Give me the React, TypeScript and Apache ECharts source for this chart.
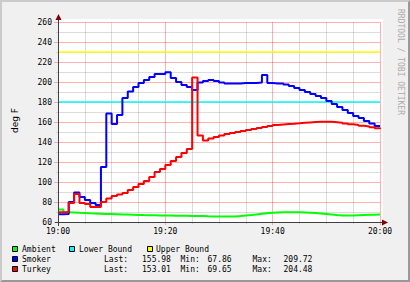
import React, { useEffect, useRef } from 'react';
import * as echarts from 'echarts';

// minutes after 19:00, one sample per minute
const minutes: number[] = Array.from({ length: 61 }, (_, i) => i);
const xTickLabels = ['19:00', '19:20', '19:40', '20:00'];

const ambient = [
  72.5, 69.8, 69.5, 69.2, 69, 68.7, 68.5, 68.3, 68.1, 68, 67.8, 67.6, 67.5, 67.3, 67.1, 66.9,
  66.8, 66.7, 66.6, 66.5, 66.4, 66.3, 66.2, 66.2, 66.1, 66, 65.9, 65.7, 65.6, 65.5, 65.4, 65.4,
  65.6, 66, 66.5, 67, 67.6, 68.2, 68.8, 69.2, 69.5, 69.7, 69.8, 69.8, 69.7, 69.6, 69.3, 69,
  68.5, 68, 67.5, 67, 66.6, 66.4, 66.5, 66.8, 67, 67.2, 67.3, 67.4, 67.4,
];
const smoker = [
  67.86, 68, 80, 89.5, 85, 82, 79, 77, 115, 168.5, 158, 167, 184, 190.5, 195, 199,
  202, 205, 208, 208, 209.72, 204, 200, 197, 195, 192, 199.5, 201, 202, 201, 199.5, 198.5,
  198.5, 198.5, 199, 199, 199, 199.5, 207, 199, 198.5, 198.5, 197.5, 196, 194, 192, 190, 188,
  186, 184, 181, 178, 175, 172, 169, 166, 164, 161, 158.5, 156, 155.98,
];
const turkey = [
  69.65, 70, 79, 88, 79, 78, 75, 75, 80, 83.5, 86, 87.5, 89, 92, 95, 98,
  101, 105, 110, 113, 117, 121, 125, 129, 133, 204.48, 146.5, 141.5, 143.5, 145, 146.5, 148,
  149, 150, 151, 152, 153, 154, 155, 156, 157, 157.5, 158, 158.3, 158.7, 159.2, 159.6, 160,
  160.2, 160.3, 160.2, 159.8, 159.3, 158.5, 157.7, 157, 156.2, 155.5, 154.7, 153.8, 153.01,
];
const lowerBound = 180;
const upperBound = 230;

const smokerStats = { last: '155.98', min: '67.86', max: '209.72' };
const turkeyStats = { last: '153.01', min: '69.65', max: '204.48' };

const MONO = "'DejaVu Sans Mono', monospace";

export default function App() {
  const ref = useRef<HTMLDivElement>(null);
  useEffect(() => {
    const chart = echarts.init(ref.current!, null, { renderer: 'svg' });
    const GL = 58, GT = 22, GR = 380, GB = 222;
    const majorColor = 'rgba(255,0,0,0.3)';
    const minorColor = 'rgba(140,140,140,0.3)';
    const stepLine = (name: string, vals: number[], color: string, z: number) => ({
      type: 'line', name, step: 'end', symbol: 'none', silent: true, z,
      data: minutes.map((m, i) => [m, vals[i]]),
      lineStyle: { color, width: 2 },
    });
    const flatLine = (name: string, v: number, color: string, z: number) => ({
      type: 'line', name, symbol: 'none', silent: true, z,
      data: [[minutes[0], v], [minutes[minutes.length - 1], v]],
      lineStyle: { color, width: 1.5 },
    });
    const txt = (x: number, y: number, text: string, extra: any = {}) => ({
      type: 'text', x, y, silent: true,
      style: { text, fill: '#000', font: `8px ${MONO}`, verticalAlign: 'middle', align: 'left', ...extra },
    });
    const box = (x: number, y: number, color: string) => ({
      type: 'rect', silent: true, shape: { x: x + 0.5, y: y + 0.5, width: 5, height: 5 },
      style: { fill: color, stroke: '#000', lineWidth: 1 },
    });
    const legendRows = [249, 259, 269];
    chart.setOption({
      animation: false,
      backgroundColor: '#f0f0f0',
      grid: { left: GL, top: GT, right: 410 - GR, bottom: 282 - GB, containLabel: false },
      xAxis: {
        type: 'value', min: 0, max: 60, interval: 20,
        axisLine: { show: false },
        axisTick: { show: true, length: 3, lineStyle: { color: majorColor } },
        minorTick: { show: true, splitNumber: 4, length: 2, lineStyle: { color: minorColor } },
        splitLine: { show: true, lineStyle: { color: majorColor, width: 1 } },
        minorSplitLine: { show: true, lineStyle: { color: minorColor, width: 1 } },
        axisLabel: {
          margin: 5, color: '#000', fontFamily: MONO, fontSize: 8,
          formatter: (v: number) => xTickLabels[Math.round(v / 20)] ?? '',
        },
      },
      yAxis: {
        type: 'value', min: 60, max: 260, interval: 20,
        axisLine: { show: false },
        axisTick: { show: true, length: 4, lineStyle: { color: majorColor } },
        minorTick: { show: true, splitNumber: 2, length: 2, lineStyle: { color: minorColor } },
        splitLine: { show: true, lineStyle: { color: majorColor, width: 1 } },
        minorSplitLine: { show: true, lineStyle: { color: minorColor, width: 1 } },
        axisLabel: { margin: 6, color: '#000', fontFamily: MONO, fontSize: 8 },
      },
      series: [
        stepLine('Ambient', ambient, '#00ff00', 2),
        flatLine('Lower Bound', lowerBound, '#00ffff', 3),
        flatLine('Upper Bound', upperBound, '#ffff00', 4),
        stepLine('Smoker', smoker, '#0000ff', 5),
        stepLine('Turkey', turkey, '#ff0000', 6),
      ],
      graphic: [
        { type: 'rect', z: -100, silent: true, shape: { x: GL, y: GT - 3, width: GR - GL + 3, height: GB - GT + 3 }, style: { fill: '#ffffff' } },
        // 3D frame
        { type: 'polygon', silent: true, shape: { points: [[0, 0], [410, 0], [408, 2], [2, 2], [2, 280], [0, 282]] }, style: { fill: '#cbcbcb' } },
        { type: 'polygon', silent: true, shape: { points: [[410, 0], [410, 282], [0, 282], [2, 280], [408, 280], [408, 2]] }, style: { fill: '#999999' } },
        // axes
        { type: 'line', silent: true, z: 50, shape: { x1: GL - 3, y1: GB + 0.5, x2: GR + 4, y2: GB + 0.5 }, style: { stroke: '#404040', lineWidth: 1 } },
        { type: 'line', silent: true, z: 50, shape: { x1: GL + 0.5, y1: GB + 4, x2: GL + 0.5, y2: GT - 3 }, style: { stroke: '#404040', lineWidth: 1 } },
        { type: 'polygon', silent: true, z: 51, shape: { points: [[GR + 2, GB - 2.5], [GR + 8, GB + 0.5], [GR + 2, GB + 3.5]] }, style: { fill: '#7f0000' } },
        { type: 'polygon', silent: true, z: 51, shape: { points: [[GL - 2.5, GT - 2], [GL + 0.5, GT - 8], [GL + 3.5, GT - 2]] }, style: { fill: '#7f0000' } },
        // y axis title
        { type: 'text', x: 15, y: 120.5, rotation: Math.PI / 2, silent: true,
          style: { text: 'deg F', fill: '#000', font: "9px 'DejaVu Sans', sans-serif", align: 'center', verticalAlign: 'middle' } },
        // watermark
        { type: 'text', x: 400, y: 62, rotation: -Math.PI / 2, silent: true,
          style: { text: 'RRDTOOL / TOBI OETIKER', fill: '#ababab', font: `8px ${MONO}`, align: 'center', verticalAlign: 'middle' } },
        // legend
        box(12, legendRows[0] - 3, '#00ff00'), txt(22, legendRows[0], 'Ambient'),
        box(69, legendRows[0] - 3, '#00ffff'), txt(79, legendRows[0], 'Lower Bound'),
        box(147, legendRows[0] - 3, '#ffff00'), txt(156, legendRows[0], 'Upper Bound'),
        box(12, legendRows[1] - 3, '#0000ff'), txt(22, legendRows[1], 'Smoker'),
        txt(104, legendRows[1], 'Last:'), txt(142, legendRows[1], smokerStats.last),
        txt(180.5, legendRows[1], 'Min:'), txt(207.5, legendRows[1], smokerStats.min),
        txt(252.5, legendRows[1], 'Max:'), txt(283.5, legendRows[1], smokerStats.max),
        box(12, legendRows[2] - 3, '#ff0000'), txt(22, legendRows[2], 'Turkey'),
        txt(104, legendRows[2], 'Last:'), txt(142, legendRows[2], turkeyStats.last),
        txt(180.5, legendRows[2], 'Min:'), txt(207.5, legendRows[2], turkeyStats.min),
        txt(252.5, legendRows[2], 'Max:'), txt(283.5, legendRows[2], turkeyStats.max),
      ],
    });
    return () => chart.dispose();
  }, []);
  return <div ref={ref} style={{ position: 'absolute', left: 0, top: 0, width: 410, height: 282 }} />;
}
